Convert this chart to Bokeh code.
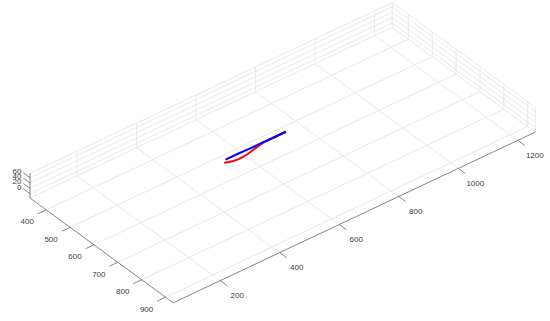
import numpy as np
from bokeh.plotting import figure
from bokeh.models import Range1d
from bokeh.core.properties import value
from bokeh.embed import file_html
from bokeh.resources import INLINE

# ---- axis limits and ticks (data units) ----
x_lim = [42, 1259]
y_lim = [332, 932]
z_lim = [-16, 76]
x_ticks = [200, 400, 600, 800, 1000, 1200]
y_ticks = [400, 500, 600, 700, 800, 900]
z_ticks = [0, 20, 40, 60]
x_tick_labels = ["200", "400", "600", "800", "1000", "1200"]
y_tick_labels = ["400", "500", "600", "700", "800", "900"]
z_tick_labels = ["0", "20", "40", "60"]

# ---- series (x, y, z) ----
red_x = [510, 522, 534, 550, 567, 583, 599, 621, 645, 680, 723]
red_y = [562, 567, 571, 573, 572, 570, 566, 561, 556, 555, 555]
red_z = [20, 20, 20, 20, 20, 20, 20, 20, 20, 20, 20]
blue_x = [522, 562, 602, 642, 682, 723]
blue_y = [553, 553, 554, 554, 555, 555]
blue_z = [20, 20, 20, 20, 20, 20]

# ---- view (orthographic projection to picture pixels) ----
ORIGIN = (172.7, 302.3)        # screen point of (xmin, ymax, zmin)
EX = (0.2976, -0.1403)         # screen shift per x unit
EY = (0.2387, 0.1747)          # screen shift per y unit
EZ = (0.0, -0.268)             # screen shift per z unit


def proj(x, y, z):
    x = np.asarray(x, float); y = np.asarray(y, float); z = np.asarray(z, float)
    dx = x - x_lim[0]; dy = y - y_lim[1]; dz = z - z_lim[0]
    sx = ORIGIN[0] + dx * EX[0] + dy * EY[0] + dz * EZ[0]
    sy = ORIGIN[1] + dx * EX[1] + dy * EY[1] + dz * EZ[1]
    return sx, sy


def seg(p0, p1):
    a = proj(*p0); b = proj(*p1)
    return [float(a[0]), float(b[0])], [float(a[1]), float(b[1])]


W, H = 550, 321
p = figure(width=W, height=H, output_backend="svg", toolbar_location=None,
           x_range=Range1d(0, W), y_range=Range1d(H, 0),
           x_axis_location=None, y_axis_location=None, min_border=0)
p.grid.visible = False
p.outline_line_color = None
p.background_fill_color = "white"
p.border_fill_color = "white"

x0, x1 = x_lim; y0, y1 = y_lim; z0, z1 = z_lim

# ---- grid lines ----
gxs, gys = [], []
def add(a, b):
    sx, sy = seg(a, b); gxs.append(sx); gys.append(sy)

for xt in x_ticks:
    add((xt, y0, z0), (xt, y1, z0))       # floor
    add((xt, y0, z0), (xt, y0, z1))       # back-left wall
for yt in y_ticks:
    add((x0, yt, z0), (x1, yt, z0))       # floor
    add((x1, yt, z0), (x1, yt, z1))       # back-right wall
for zt in z_ticks:
    add((x0, y0, zt), (x1, y0, zt))
    add((x1, y0, zt), (x1, y1, zt))
# box back edges
add((x0, y0, z1), (x1, y0, z1))
add((x1, y0, z1), (x1, y1, z1))
add((x1, y0, z0), (x1, y0, z1))
add((x1, y1, z0), (x1, y1, z1))
add((x0, y0, z0), (x1, y0, z0))
add((x1, y0, z0), (x1, y1, z0))
p.multi_line(gxs, gys, line_color="#e3e3e3", line_width=0.8)

# ---- axis lines ----
axs, ays = [], []
for a, b in [((x0, y1, z0), (x1, y1, z0)), ((x0, y0, z0), (x0, y1, z0)), ((x0, y0, z0), (x0, y0, z1))]:
    sx, sy = seg(a, b); axs.append(sx); ays.append(sy)

# ticks
TX = 30   # x-tick length along +y (units)
TY = 28   # y-tick length along -x (units)
TZ = 28   # z-tick length along -y (units)
for xt in x_ticks:
    sx, sy = seg((xt, y1, z0), (xt, y1 + TX, z0)); axs.append(sx); ays.append(sy)
for yt in y_ticks:
    sx, sy = seg((x0, yt, z0), (x0 - TY, yt, z0)); axs.append(sx); ays.append(sy)
for zt in z_ticks:
    sx, sy = seg((x0, y0, zt), (x0, y0 - TZ, zt)); axs.append(sx); ays.append(sy)
p.multi_line(axs, ays, line_color="#666666", line_width=0.8)

# ---- tick labels ----
FONT = value("Liberation Sans")
lx, ly = proj(x_ticks, [y1] * len(x_ticks), [z0] * len(x_ticks))
p.text(x=lx + 17, y=ly + 15, text=x_tick_labels, text_font=FONT, text_font_size="8px",
       text_color="#3a3a3a", text_align="center", text_baseline="middle")
lx, ly = proj([x0] * len(y_ticks), y_ticks, [z0] * len(y_ticks))
p.text(x=lx - 19, y=ly + 12, text=y_tick_labels, text_font=FONT, text_font_size="8px",
       text_color="#3a3a3a", text_align="center", text_baseline="middle")
lx, ly = proj([x0] * len(z_ticks), [y0] * len(z_ticks), z_ticks)
p.text(x=lx - 8.5, y=ly - 6.4, text=z_tick_labels, text_font=FONT, text_font_size="8px",
       text_color="#3a3a3a", text_align="right", text_baseline="middle")

# ---- data ----
rx, ry = proj(red_x, red_y, red_z)
p.line(rx, ry, line_color="#ff0000", line_width=2)
bx, by = proj(blue_x, blue_y, blue_z)
p.line(bx, by, line_color="#0000ff", line_width=2)

open("out.html", "w").write(file_html(p, INLINE))
